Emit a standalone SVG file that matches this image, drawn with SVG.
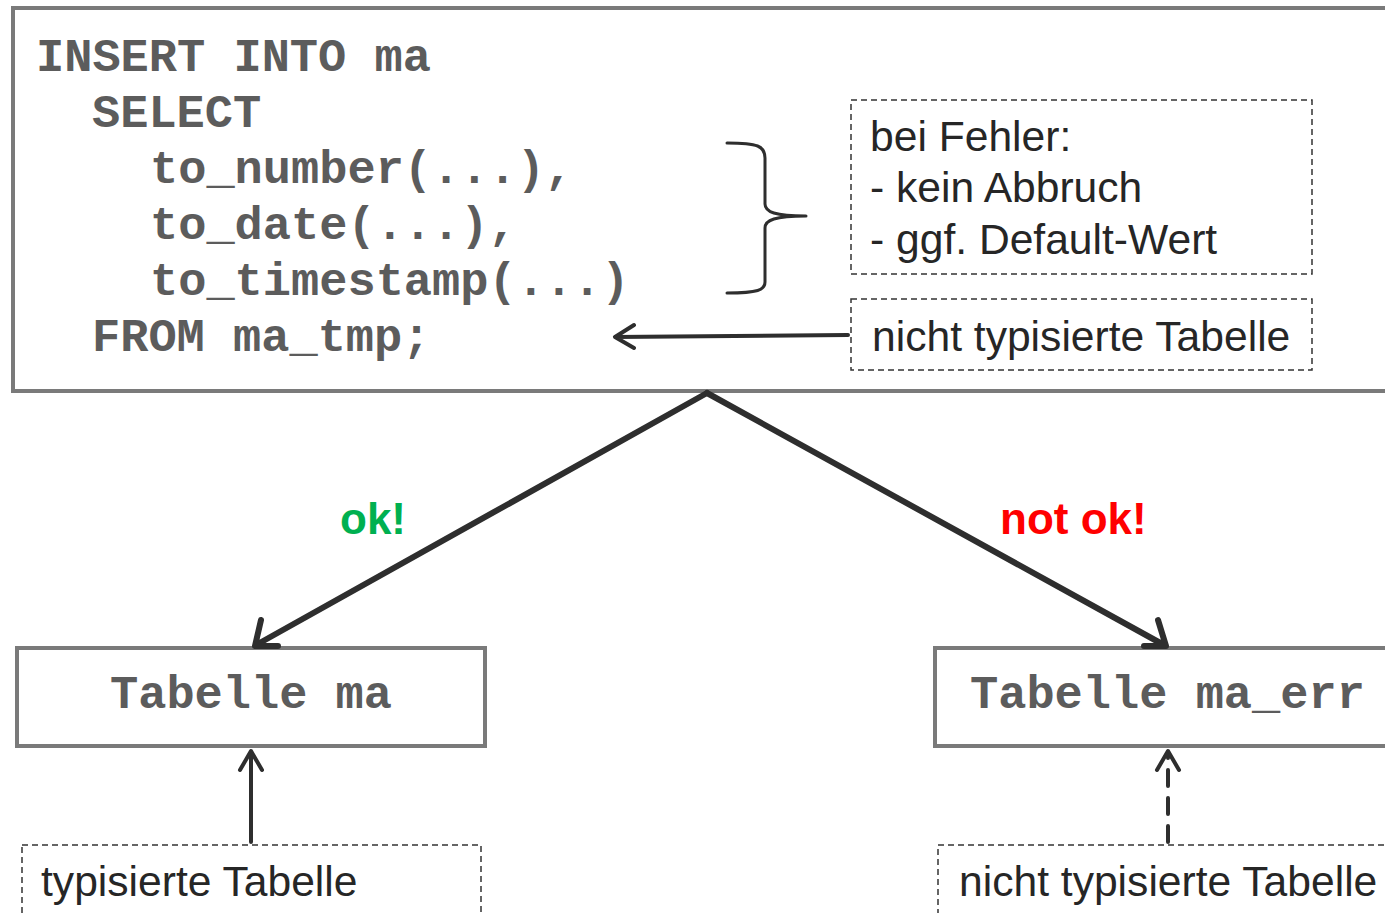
<svg xmlns="http://www.w3.org/2000/svg" width="1385" height="913" viewBox="0 0 1385 913">
<style>
.box{fill:#fff;stroke:#7a7a7a;stroke-width:4}
.note{fill:#fff;stroke:#333;stroke-width:1.5;stroke-dasharray:6 4}
.code{font-family:"Liberation Mono",monospace;font-weight:bold;font-size:47px;fill:#5c5c5c}
.txt{font-family:"Liberation Sans",Arial,sans-serif;font-size:42.6px;fill:#262626}
.lbl{font-family:"Liberation Sans",Arial,sans-serif;font-size:44px;font-weight:bold}
.con{fill:none;stroke:#2e2e2e;stroke-linecap:round;stroke-linejoin:round}
</style>
<rect width="1385" height="913" fill="#fff"/>
<g id="sql">
<rect class="box" x="13" y="8" width="1400" height="383"/>
<text class="code" x="36" y="71">INSERT INTO ma</text>
<text class="code" x="92" y="127">SELECT</text>
<text class="code" x="150" y="183">to_number(...),</text>
<text class="code" x="150" y="239">to_date(...),</text>
<text class="code" x="150" y="295">to_timestamp(...)</text>
<text class="code" x="92" y="351">FROM ma_tmp;</text>
</g>
<g id="fehler">
<rect class="note" x="851" y="100" width="461" height="174"/>
<text class="txt" x="870" y="151">bei Fehler:</text>
<text class="txt" x="870" y="202">- kein Abbruch</text>
<text class="txt" x="870" y="254">- ggf. Default-Wert</text>
</g>
<g id="ntt1">
<rect class="note" x="851" y="299" width="461" height="71"/>
<text class="txt" x="872" y="351">nicht typisierte Tabelle</text>
</g>
<g id="tab_ma">
<rect class="box" x="17" y="648" width="468" height="98"/>
<text class="code" x="251" y="708" text-anchor="middle">Tabelle ma</text>
</g>
<g id="tab_err">
<rect class="box" x="935" y="648" width="480" height="98"/>
<text class="code" x="970" y="708">Tabelle ma_err</text>
</g>
<g id="tt">
<rect class="note" x="22" y="845" width="459" height="80"/>
<text class="txt" x="41" y="896">typisierte Tabelle</text>
</g>
<g id="ntt2">
<rect class="note" x="938" y="845" width="470" height="80"/>
<text class="txt" x="959" y="896">nicht typisierte Tabelle</text>
</g>
<g id="labels">
<text class="lbl" x="340" y="534" fill="#00b050">ok!</text>
<text class="lbl" x="1000" y="534" fill="#ff0000">not ok!</text>
</g>
<g id="connectors">
<path class="con" stroke-width="3" d="M727,143 C758,143 765,146 765,158 L765,204 C765,212 775,216 806,216 C775,216 765,220 765,228 L765,282 C765,290 758,293 727,293"/>
<path class="con" stroke-width="4" d="M848,335 L615,337 M634,325 L615,337 L634,348"/>
<path class="con" stroke-width="6" d="M707,393 L256,645 M261,620 L255,646 L278,646"/>
<path class="con" stroke-width="6" d="M707,393 L1164,645 M1144,646 L1166,646 L1158,620"/>
<path class="con" stroke-width="4" d="M251,842 L251,752 M240,770 L251,751 L262,770"/>
<path class="con" stroke-width="4" d="M1168,842 L1168,756" stroke-dasharray="16 12" stroke-linecap="butt"/>
<path class="con" stroke-width="4" d="M1157,770 L1168,751 L1179,770"/>
</g>
</svg>
